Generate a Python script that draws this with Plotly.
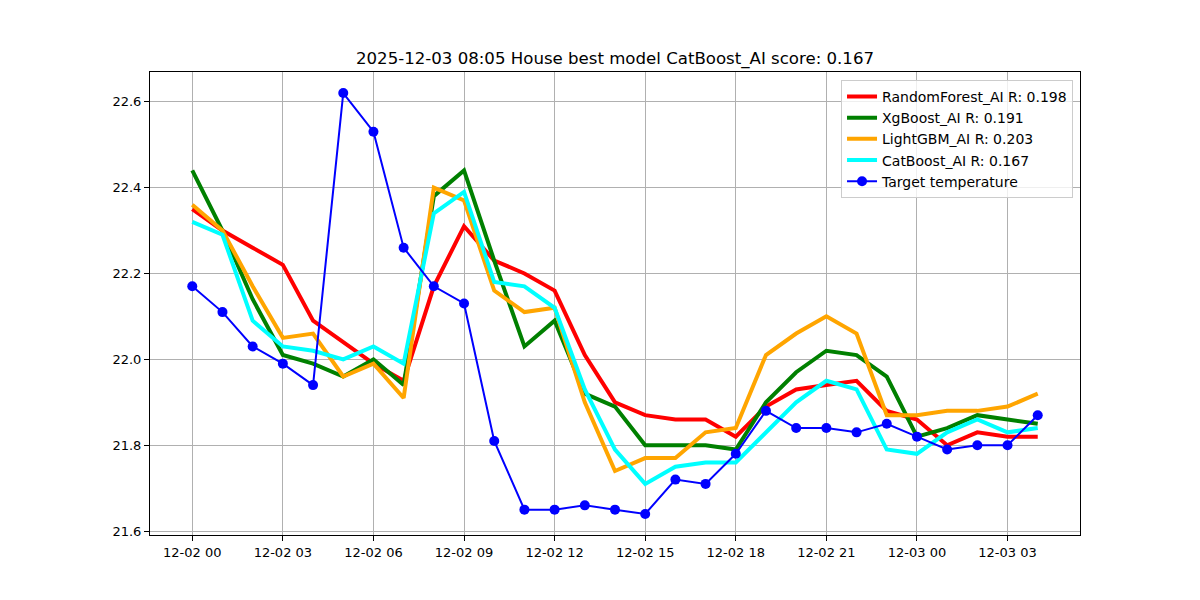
import plotly.graph_objects as go
import pandas as pd

times = pd.date_range("2025-12-02 00:00", periods=29, freq="h")

target = [22.17, 22.11, 22.03, 21.99, 21.94, 22.62, 22.53, 22.26, 22.17, 22.13,
          21.81, 21.65, 21.65, 21.66, 21.65, 21.64, 21.72, 21.71, 21.78, 21.88,
          21.84, 21.84, 21.83, 21.85, 21.82, 21.79, 21.80, 21.80, 21.87]
random_forest = [22.35, 22.30, 22.26, 22.22, 22.09, 22.04, 21.99, 21.95, 22.17, 22.31,
                 22.23, 22.20, 22.16, 22.01, 21.90, 21.87, 21.86, 21.86, 21.82, 21.89,
                 21.93, 21.94, 21.95, 21.88, 21.86, 21.80, 21.83, 21.82, 21.82]
xgboost = [22.44, 22.30, 22.14, 22.01, 21.99, 21.96, 22.00, 21.94, 22.38, 22.44,
           22.23, 22.03, 22.09, 21.92, 21.89, 21.80, 21.80, 21.80, 21.79, 21.90,
           21.97, 22.02, 22.01, 21.96, 21.82, 21.84, 21.87, 21.86, 21.85]
lightgbm = [22.36, 22.30, 22.17, 22.05, 22.06, 21.96, 21.99, 21.91, 22.40, 22.37,
            22.16, 22.11, 22.12, 21.90, 21.74, 21.77, 21.77, 21.83, 21.84, 22.01,
            22.06, 22.10, 22.06, 21.87, 21.87, 21.88, 21.88, 21.89, 21.92]
catboost = [22.32, 22.29, 22.09, 22.03, 22.02, 22.00, 22.03, 21.99, 22.34, 22.39,
            22.18, 22.17, 22.12, 21.93, 21.79, 21.71, 21.75, 21.76, 21.76, 21.83,
            21.90, 21.95, 21.93, 21.79, 21.78, 21.83, 21.86, 21.83, 21.84]

models = [
    ("RandomForest_AI R: 0.198", random_forest, "red"),
    ("XgBoost_AI R: 0.191", xgboost, "green"),
    ("LightGBM_AI R: 0.203", lightgbm, "orange"),
    ("CatBoost_AI R: 0.167", catboost, "cyan"),
]

fig = go.Figure()
for name, vals, color in models:
    fig.add_trace(go.Scatter(x=times, y=vals, mode="lines", name=name,
                             line=dict(color=color, width=4)))
fig.add_trace(go.Scatter(x=times, y=target, mode="lines+markers", name="Target temperature",
                         line=dict(color="blue", width=2),
                         marker=dict(color="blue", size=10)))

font = "DejaVu Sans, sans-serif"
fig.update_layout(
    width=1200, height=600,
    paper_bgcolor="white", plot_bgcolor="white",
    margin=dict(l=150, r=120, t=72, b=65),
    font=dict(family=font, size=13, color="black"),
    title=dict(text="2025-12-03 08:05 House best model CatBoost_AI score: 0.167",
               xref="paper", x=0.5, xanchor="center",
               yref="container", y=1 - 58 / 600, yanchor="middle",
               font=dict(size=16.6, family=font, color="black")),
    legend=dict(x=0.9925, xanchor="right", y=0.983, yanchor="top",
                bgcolor="rgba(255,255,255,0.8)", bordercolor="#cccccc", borderwidth=1,
                font=dict(size=14, family=font), tracegroupgap=0,
                itemwidth=30),
    showlegend=True,
)
fig.update_xaxes(
    type="date",
    range=[pd.Timestamp("2025-12-02 00:00") - pd.Timedelta(minutes=84),
           pd.Timestamp("2025-12-03 04:00") + pd.Timedelta(minutes=84)],
    tick0="2025-12-02 00:00", dtick=3 * 3600000, tickformat="%m-%d %H",
    showgrid=True, gridcolor="#b0b0b0", gridwidth=1,
    showline=True, linecolor="black", linewidth=1, mirror=True,
    ticks="outside", ticklen=5, tickcolor="black", zeroline=False,
)
fig.update_yaxes(
    range=[21.591, 22.669], dtick=0.2, tick0=21.6, tickformat=".1f",
    showgrid=True, gridcolor="#b0b0b0", gridwidth=1,
    showline=True, linecolor="black", linewidth=1, mirror=True,
    ticks="outside", ticklen=5, tickcolor="black", zeroline=False,
)

fig.write_html("out.html")
